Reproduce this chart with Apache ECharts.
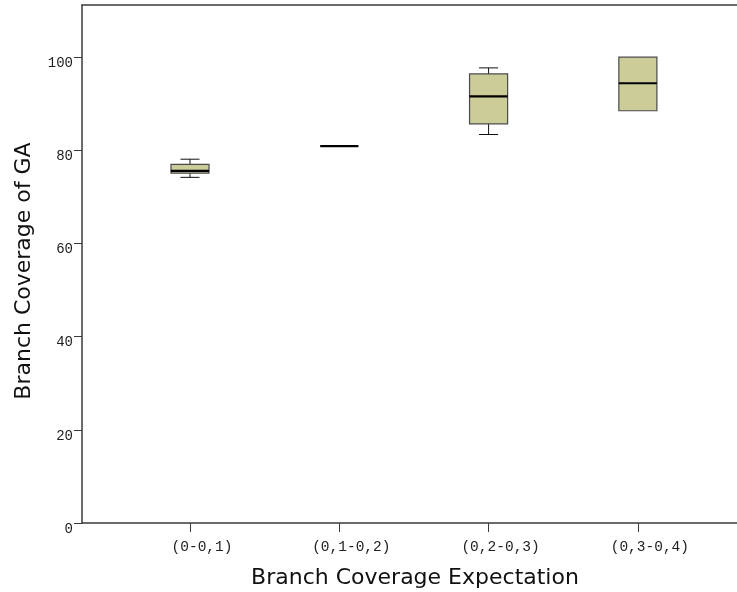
<!DOCTYPE html>
<html>
<head>
<meta charset="utf-8">
<script src="https://cdn.jsdelivr.net/npm/echarts@6/dist/echarts.min.js"></script>
<style>
  html, body { margin: 0; padding: 0; background: #fff; }
  #chart { width: 737px; height: 592px; }
</style>
</head>
<body>
<div id="chart"></div>
<script>
// Category labels along the x axis
const categories = ['(0-0,1)', '(0,1-0,2)', '(0,2-0,3)', '(0,3-0,4)'];

// Five-number summaries per category (branch coverage, %)
const whiskerLow = [74.2, 80.9, 83.4, 88.5];
const quartile1  = [75.1, 80.9, 85.7, 88.5];
const medians    = [75.6, 80.9, 91.6, 94.4];
const quartile3  = [77.0, 80.9, 96.4, 100.0];
const whiskerHigh = [78.1, 80.9, 97.7, 100.0];

// Y axis tick values
const yTicks = [0, 20, 40, 60, 80, 100];

// Axis titles
const xTitle = 'Branch Coverage Expectation';
const yTitle = 'Branch Coverage of GA';

const boxData = categories.map((c, i) => [
  i + 1, whiskerLow[i], quartile1[i], medians[i], quartile3[i], whiskerHigh[i]
]);

const tickFont = { fontFamily: 'Liberation Mono', fontSize: 14, color: '#222' };
const titleFont = { fontFamily: 'DejaVu Sans', fontSize: 22, fill: '#111' };
const axisLineStyle = { color: '#3a3a3a', width: 1.5 };

function renderBox(params, api) {
  const x = api.value(0);
  const lo = api.value(1), q1 = api.value(2), med = api.value(3), q3 = api.value(4), hi = api.value(5);
  const boxW = api.size([0.255, 0])[0];
  const capW = boxW / 2;
  const pLo = api.coord([x, lo]);
  const pQ1 = api.coord([x, q1]);
  const pMed = api.coord([x, med]);
  const pQ3 = api.coord([x, q3]);
  const pHi = api.coord([x, hi]);
  const cx = pMed[0];
  const children = [];
  const whisker = { stroke: '#111', lineWidth: 1 };
  if (hi > q3) {
    children.push({ type: 'line', shape: { x1: cx, y1: pQ3[1], x2: cx, y2: pHi[1] }, style: whisker });
    children.push({ type: 'line', shape: { x1: cx - capW / 2, y1: pHi[1], x2: cx + capW / 2, y2: pHi[1] }, style: whisker });
  }
  if (lo < q1) {
    children.push({ type: 'line', shape: { x1: cx, y1: pQ1[1], x2: cx, y2: pLo[1] }, style: whisker });
    children.push({ type: 'line', shape: { x1: cx - capW / 2, y1: pLo[1], x2: cx + capW / 2, y2: pLo[1] }, style: whisker });
  }
  children.push({
    type: 'rect',
    shape: { x: cx - boxW / 2, y: pQ3[1], width: boxW, height: pQ1[1] - pQ3[1] },
    style: { fill: '#cccc99', stroke: '#4a4a4a', lineWidth: 1.2 }
  });
  children.push({
    type: 'line',
    shape: { x1: cx - boxW / 2, y1: pMed[1], x2: cx + boxW / 2, y2: pMed[1] },
    style: { stroke: '#000', lineWidth: 2.2 }
  });
  return { type: 'group', children };
}

const chart = echarts.init(document.getElementById('chart'), null, { renderer: 'canvas' });
chart.setOption({
  backgroundColor: '#fff',
  animation: false,
  grid: { left: 82, right: 0, top: 5, bottom: 69, containLabel: false, outerBoundsMode: 'none' },
  graphic: [
    {
      type: 'text',
      x: 415, y: 578,
      style: { text: xTitle, ...titleFont, align: 'center', verticalAlign: 'middle' }
    },
    {
      type: 'text',
      x: 24, y: 271,
      rotation: Math.PI / 2,
      style: { text: yTitle, ...titleFont, align: 'center', verticalAlign: 'middle' }
    }
  ],
  xAxis: [
    {
      type: 'value',
      position: 'bottom',
      min: 0.2766,
      max: 4.664,
      splitLine: { show: false },
      axisLine: { show: true, lineStyle: axisLineStyle },
      axisTick: { show: true, length: 9, lineStyle: { color: '#3a3a3a' }, customValues: [1, 2, 3, 4] },
      axisLabel: {
        ...tickFont,
        fontSize: 14.5,
        margin: 17,
        padding: [0, 0, 0, 24],
        customValues: [1, 2, 3, 4],
        formatter: v => categories[Math.round(v) - 1] || ''
      }
    },
    {
      type: 'value',
      position: 'top',
      min: 0.2766,
      max: 4.664,
      splitLine: { show: false },
      axisLine: { show: true, lineStyle: axisLineStyle },
      axisTick: { show: false },
      axisLabel: { show: false }
    }
  ],
  yAxis: {
    type: 'value',
    min: 0,
    max: 111.2,
    splitLine: { show: false },
    axisLine: { show: true, lineStyle: axisLineStyle },
    axisTick: { show: true, length: 8, lineStyle: { color: '#3a3a3a' }, customValues: yTicks },
    axisLabel: { ...tickFont, margin: 9, verticalAlign: 'top', lineHeight: 12, customValues: yTicks }
  },
  series: [{
    type: 'custom',
    xAxisIndex: 0,
    renderItem: renderBox,
    encode: { x: 0, y: [1, 2, 3, 4, 5] },
    data: boxData
  }]
});
</script>
</body>
</html>
